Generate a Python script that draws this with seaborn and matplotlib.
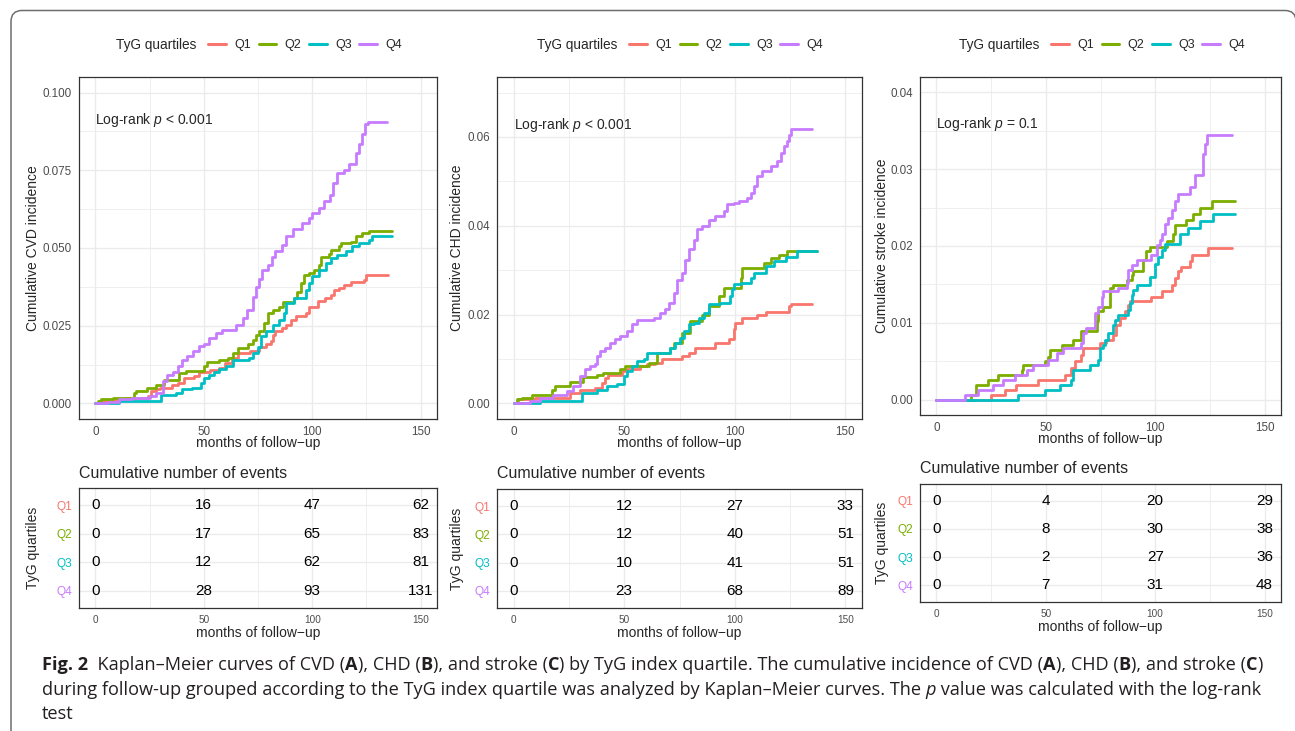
import matplotlib
matplotlib.use("Agg")
import numpy as np
import pandas as pd
import matplotlib.pyplot as plt
import seaborn as sns
from matplotlib.lines import Line2D
from matplotlib.patches import FancyBboxPatch
from matplotlib.ticker import MultipleLocator, FormatStrFormatter
from matplotlib.transforms import IdentityTransform

# ---- data (months, cumulative incidence) ----
QUARTILES = ["Q1", "Q2", "Q3", "Q4"]
PALETTE = ["#F8766D", "#7CAE00", "#00BFC4", "#C77CFF"]

CVD_Q1 = [(0, 0), (1.8, 0.0007), (9.5, 0.0013), (14, 0.0017), (24.5, 0.0024), (25.5, 0.004),
          (28, 0.0045), (30, 0.005), (35.5, 0.0058), (38, 0.0066), (41, 0.0082), (45.5, 0.0088),
          (48, 0.010), (53, 0.0107), (57, 0.0114), (60, 0.013), (63, 0.0147), (66, 0.0163),
          (71.5, 0.0168), (75.5, 0.018), (78.5, 0.019), (81, 0.020), (81.7, 0.022), (83, 0.0232),
          (86, 0.0243), (88, 0.0253), (90, 0.027), (92.5, 0.028), (97, 0.029), (98.5, 0.031),
          (102.5, 0.0328), (106, 0.034), (108.5, 0.035), (110, 0.0366), (112.5, 0.037),
          (114.5, 0.038), (118, 0.039), (124, 0.0398), (124.7, 0.0414), (134.7, 0.0414)]
CVD_Q2 = [(0, 0), (1.1, 0.0007), (2.6, 0.0013), (8, 0.0018), (18, 0.0034), (18.7, 0.004),
          (24, 0.005), (28, 0.006), (31.8, 0.0074), (38.7, 0.0098), (41.8, 0.0104), (50.2, 0.012),
          (51.7, 0.0133), (57, 0.0139), (61, 0.0147), (63.3, 0.0163), (65.6, 0.0179), (70.2, 0.019),
          (72.5, 0.0205), (74, 0.022), (75.5, 0.0232), (77.9, 0.026), (79.4, 0.029), (81.7, 0.030),
          (84.8, 0.031), (86.3, 0.0325), (91.7, 0.0339), (93.2, 0.036), (94.7, 0.0387),
          (96.3, 0.0414), (98.6, 0.042), (100.9, 0.043), (103.2, 0.0446), (104, 0.047),
          (107.8, 0.048), (108.6, 0.0494), (112.4, 0.0505), (113.2, 0.0515), (117.8, 0.052),
          (120.1, 0.0537), (123.1, 0.0548), (126.2, 0.0556), (136.6, 0.0556)]
CVD_Q3 = [(0, 0), (11, 0.0007), (30.2, 0.0026), (37.2, 0.0034), (40.2, 0.0045), (44.8, 0.005),
          (48.7, 0.0065), (50.2, 0.0082), (52.5, 0.009), (54.8, 0.010), (57.1, 0.011), (60.2, 0.012),
          (63.3, 0.0141), (70.9, 0.0147), (72.5, 0.0163), (74.8, 0.018), (76.3, 0.0216),
          (78.6, 0.0232), (81.7, 0.0253), (84.8, 0.027), (87.1, 0.029), (87.8, 0.0323),
          (91.7, 0.034), (97, 0.0366), (98.6, 0.0387), (100.1, 0.041), (103.2, 0.043),
          (106.2, 0.0451), (108.6, 0.0467), (111.6, 0.0478), (115.5, 0.0489), (118.5, 0.0505),
          (121.6, 0.0515), (126.2, 0.0526), (127.7, 0.0537), (136.6, 0.0537)]
CVD_Q4 = [(0, 0), (6, 0.0005), (11, 0.0013), (17, 0.0017), (25, 0.0024), (28, 0.0034),
          (31, 0.0072), (33, 0.0093), (36, 0.010), (38, 0.012), (40, 0.0139), (42.5, 0.0152),
          (45, 0.0168), (48, 0.0184), (50, 0.019), (52.5, 0.021), (55.5, 0.0227), (58.5, 0.0237),
          (65, 0.0253), (68, 0.0275), (70, 0.030), (72.5, 0.0344), (74, 0.0376), (75.5, 0.040),
          (77, 0.043), (79.5, 0.0446), (81.5, 0.047), (83, 0.049), (86, 0.051), (88, 0.054),
          (91, 0.056), (95.5, 0.058), (98.5, 0.0596), (100, 0.0612), (103, 0.0628), (105.5, 0.065),
          (108, 0.067), (109.5, 0.0708), (111.5, 0.074), (114.5, 0.0751), (117, 0.077),
          (120, 0.0804), (121.5, 0.0836), (123, 0.0868), (124.5, 0.090), (125.5, 0.0905),
          (134.5, 0.0905)]

CHD_Q1 = [(0, 0), (2.1, 0.0009), (9.7, 0.0013), (25.5, 0.0024), (30.1, 0.0031), (36.9, 0.0035),
          (39.9, 0.0047), (41.4, 0.0058), (42.9, 0.0065), (48.9, 0.0073), (51.2, 0.0078),
          (57.3, 0.0084), (60.3, 0.0088), (64, 0.0092), (67.1, 0.0099), (76.1, 0.0107),
          (79.2, 0.0114), (82.2, 0.0125), (91.2, 0.0137), (97.3, 0.0144), (99.5, 0.0167),
          (100.3, 0.0182), (103.3, 0.0193), (110.1, 0.020), (113.9, 0.0206), (124.5, 0.0219),
          (125.2, 0.0224), (135, 0.0224)]
CHD_Q2 = [(0, 0), (1.4, 0.0009), (3.6, 0.0013), (8.2, 0.002), (17.2, 0.0031), (18.7, 0.004),
          (25.5, 0.0048), (31.6, 0.006), (37.6, 0.0065), (40.6, 0.0069), (48.2, 0.0078),
          (50.5, 0.0084), (61, 0.0092), (64.8, 0.0114), (70.8, 0.0125), (72.4, 0.0137),
          (76.1, 0.0159), (79.9, 0.0185), (85.2, 0.020), (88.2, 0.0219), (92.7, 0.0241),
          (95, 0.026), (102.6, 0.0283), (103.3, 0.0305), (113.1, 0.0317), (116.2, 0.0328),
          (119.9, 0.0335), (123.7, 0.0344), (137, 0.0344)]
CHD_Q3 = [(0, 0), (11.9, 0.0005), (30.8, 0.0024), (37.6, 0.0031), (42.1, 0.0039), (46.7, 0.0043),
          (49.7, 0.0062), (51.2, 0.0073), (53.5, 0.0084), (55.7, 0.0095), (58.8, 0.0099),
          (60.3, 0.0114), (70.8, 0.0125), (73.1, 0.0137), (75.4, 0.0148), (76.9, 0.0163),
          (79.2, 0.0178), (81.4, 0.0182), (83.7, 0.0193), (86, 0.0204), (88.2, 0.0223),
          (93.5, 0.0227), (98, 0.0242), (98.8, 0.0257), (99.5, 0.0268), (102.6, 0.0272),
          (107.1, 0.0283), (108.6, 0.0294), (113.9, 0.0309), (117.7, 0.032), (123, 0.033),
          (128.2, 0.0343), (137, 0.0343)]
CHD_Q4 = [(0, 0), (7.4, 0.0005), (11.9, 0.0013), (18, 0.002), (24, 0.0028), (27, 0.0039),
          (30.1, 0.0062), (32.3, 0.0077), (34.6, 0.0084), (36.9, 0.0088), (37.6, 0.0107),
          (39.1, 0.0118), (41.4, 0.0125), (43.7, 0.0137), (45.9, 0.0144), (48.2, 0.0152),
          (51.2, 0.0163), (53.5, 0.0178), (55.7, 0.0189), (63.3, 0.0193), (66.3, 0.0204),
          (68.6, 0.0212), (70.1, 0.0227), (72.4, 0.0249), (73.9, 0.0279), (76.1, 0.0294),
          (77.6, 0.0324), (79.2, 0.0347), (81.4, 0.0369), (82.9, 0.0392), (85.2, 0.0399),
          (88.2, 0.0414), (91.2, 0.0422), (95, 0.0433), (96.5, 0.0448), (99.5, 0.0452),
          (101.8, 0.0455), (105.6, 0.0463), (107.1, 0.0474), (108.6, 0.0489), (110.1, 0.0512),
          (112.4, 0.0523), (116.2, 0.0534), (119.2, 0.0545), (120.7, 0.0564), (122.2, 0.0579),
          (123.7, 0.059), (124.5, 0.0605), (125.2, 0.0617), (135, 0.0617)]

STROKE_Q1 = [(0, 0), (24.8, 0.00065), (31.3, 0.0013), (36.6, 0.0019), (46.5, 0.0026),
             (58.7, 0.0032), (61.7, 0.0041), (63.3, 0.005), (66.3, 0.0058), (67.1, 0.0067),
             (74.7, 0.0074), (77.7, 0.0078), (80.8, 0.0084), (82.3, 0.0097), (83.8, 0.0106),
             (86.1, 0.0115), (87.7, 0.0123), (88.4, 0.0128), (98.3, 0.0134), (102.9, 0.0141),
             (107.5, 0.0149), (109, 0.0158), (110.5, 0.0167), (112, 0.0173), (115.9, 0.018),
             (116.6, 0.0188), (124.2, 0.0197), (134.9, 0.0197)]
STROKE_Q2 = [(0, 0), (16, 0.00065), (18.3, 0.0019), (23.6, 0.0026), (28.2, 0.0032),
             (38.9, 0.0039), (39.6, 0.0045), (49.5, 0.005), (51.1, 0.0056), (51.8, 0.0065),
             (57.2, 0.0071), (62.5, 0.0078), (66.3, 0.0089), (73.2, 0.0102), (73.9, 0.0115),
             (76.2, 0.0121), (79.3, 0.0145), (80.8, 0.0149), (86.9, 0.0156), (89.2, 0.0162),
             (89.9, 0.0167), (94.5, 0.0182), (96, 0.0193), (97.6, 0.0199), (105.2, 0.0206),
             (108.2, 0.0216), (109, 0.0227), (114.3, 0.0234), (117.4, 0.0242), (120.4, 0.0249),
             (125.8, 0.0258), (136.7, 0.0258)]
STROKE_Q3 = [(0, 0), (37.3, 0.00065), (49.5, 0.0013), (56.4, 0.0019), (61.7, 0.0026),
             (62.5, 0.0039), (70.1, 0.0045), (73.9, 0.0052), (74.7, 0.0067), (76.2, 0.0071),
             (77, 0.0078), (78.5, 0.0087), (80.8, 0.0097), (81.6, 0.0104), (83.1, 0.011),
             (87.7, 0.0117), (88.4, 0.0126), (89.2, 0.0136), (89.9, 0.0143), (91.5, 0.0149),
             (97.6, 0.016), (99.8, 0.0177), (101.4, 0.0186), (102.9, 0.0195), (104.4, 0.0203),
             (111.3, 0.0216), (115.1, 0.0223), (120.4, 0.0232), (126.5, 0.0242), (136.7, 0.0242)]
STROKE_Q4 = [(0, 0), (13, 0.00065), (19.1, 0.0013), (25.9, 0.0019), (30.5, 0.0026),
             (35.8, 0.0032), (41.2, 0.0039), (44.2, 0.0045), (51.1, 0.0052), (54.9, 0.0061),
             (57.9, 0.0067), (66.3, 0.0074), (67.1, 0.0087), (68.6, 0.0093), (72.4, 0.0113),
             (73.9, 0.0121), (75.5, 0.0134), (76.2, 0.0141), (83.1, 0.0145), (86.9, 0.0152),
             (87.7, 0.0169), (89.2, 0.0175), (91.5, 0.0182), (98.3, 0.0188), (100.6, 0.0201),
             (102.1, 0.0208), (102.9, 0.0216), (104.4, 0.0229), (105.9, 0.0236), (107.5, 0.0247),
             (109, 0.0258), (110.5, 0.0268), (115.9, 0.0277), (118.1, 0.0292), (122, 0.032),
             (122.7, 0.0333), (123.5, 0.0344), (134.9, 0.0344)]

# cumulative number of events at 0, 50, 100, 150 months
EVENT_TIMES = [0, 50, 100, 150]
CVD_EVENTS = [[0, 16, 47, 62], [0, 17, 65, 83], [0, 12, 62, 81], [0, 28, 93, 131]]
CHD_EVENTS = [[0, 12, 27, 33], [0, 12, 40, 51], [0, 10, 41, 51], [0, 23, 68, 89]]
STROKE_EVENTS = [[0, 4, 20, 29], [0, 8, 30, 38], [0, 2, 27, 36], [0, 7, 31, 48]]

Y_LABELS = ["Cumulative CVD incidence", "Cumulative CHD incidence", "Cumulative stroke incidence"]
P_TEXTS = ["Log-rank $p$ < 0.001", "Log-rank $p$ < 0.001", "Log-rank $p$ = 0.1"]
P_Y = [0.0911, 0.0626, 0.0359]

# ---- style ----
sns.set_style("white")
plt.rcParams["font.family"] = ["Liberation Sans", "DejaVu Sans"]
plt.rcParams["mathtext.fontset"] = "custom"
plt.rcParams["mathtext.rm"] = "Liberation Sans"
plt.rcParams["mathtext.it"] = "Liberation Sans:italic"

W, H = 1295, 731
fig = plt.figure(figsize=(W / 100, H / 100), dpi=100)
fig.patch.set_facecolor("white")

XLAB = "months of follow\u2212up"
GRID = "#EBEBEB"


def px_axes(l, t, r, b):
    return fig.add_axes([l / W, 1 - b / H, (r - l) / W, (b - t) / H])


def style_axes(ax):
    for s in ax.spines.values():
        s.set_color("#333333")
        s.set_linewidth(0.9)
    ax.set_axisbelow(True)
    ax.grid(which="major", color=GRID, lw=1.0)
    ax.grid(which="minor", color=GRID, lw=0.55)
    ax.tick_params(which="major", length=3, width=0.8, color="#333333",
                   labelcolor="#4D4D4D", pad=2)
    ax.tick_params(which="minor", length=0)


def to_frame(curves):
    rows = []
    for q, pts in zip(QUARTILES, curves):
        for t, v in pts:
            rows.append((q, t, v))
    return pd.DataFrame(rows, columns=["quartile", "months", "incidence"])


panels = [
    # curves, events, ymax, ystep, fmt, main box, table box, legend x (title, first line), title y
    ([CVD_Q1, CVD_Q2, CVD_Q3, CVD_Q4], CVD_EVENTS, 0.1, 0.025, "%.3f",
     (79, 77, 437, 419), (79, 488, 437, 608), (116, 208), 474),
    ([CHD_Q1, CHD_Q2, CHD_Q3, CHD_Q4], CHD_EVENTS, 0.07, 0.02, "%.2f",
     (497, 77, 862, 419), (497, 489, 862, 608), (537, 629), 474),
    ([STROKE_Q1, STROKE_Q2, STROKE_Q3, STROKE_Q4], STROKE_EVENTS, 0.04, 0.01, "%.2f",
     (920, 77, 1281, 415), (920, 484, 1281, 602), (959, 1051), 469),
]
YLAB_RIGHT = [40, 464, 889]  # pixel x of the right edge of rotated y labels

for i, (curves, events, ymax, ystep, fmt, mbox, tbox, legx, title_y) in enumerate(panels):
    # --- Kaplan-Meier panel ---
    ax = px_axes(*mbox)
    df = to_frame(curves)
    sns.lineplot(data=df, x="months", y="incidence", hue="quartile", hue_order=QUARTILES,
                 palette=PALETTE, drawstyle="steps-post", estimator=None, linewidth=2.0,
                 legend=False, ax=ax)
    style_axes(ax)
    ax.set_xlim(-7.5, 157.5)
    ax.set_ylim(-0.05 * ymax, 1.05 * ymax)
    ax.xaxis.set_major_locator(MultipleLocator(50))
    ax.xaxis.set_minor_locator(MultipleLocator(25))
    ax.yaxis.set_major_locator(MultipleLocator(ystep))
    ax.yaxis.set_minor_locator(MultipleLocator(ystep / 2))
    ax.yaxis.set_major_formatter(FormatStrFormatter(fmt))
    ax.tick_params(labelsize=8.4)
    ax.set_xlabel(XLAB, fontsize=10)
    ax.set_ylabel(Y_LABELS[i], fontsize=10)
    bw = mbox[2] - mbox[0]
    bh = mbox[3] - mbox[1]
    ax.yaxis.set_label_coords((YLAB_RIGHT[i] - mbox[0]) / bw, 0.5)
    ax.xaxis.set_label_coords(0.5, -17.5 / bh)
    ax.text(0, P_Y[i], P_TEXTS[i], fontsize=10, ha="left", va="center")

    # legend on top
    fig.text(legx[0] / W, 1 - 45 / H, "TyG quartiles", fontsize=9.8, va="center", ha="left")
    handles = [Line2D([], [], color=c, lw=2.2) for c in PALETTE]
    fig.legend(handles, QUARTILES, loc="center left", bbox_to_anchor=(legx[1] / W, 1 - 45 / H),
               ncol=4, frameon=False, fontsize=9, handlelength=1.4, handletextpad=0.7,
               columnspacing=0.6, borderpad=0, borderaxespad=0)

    # --- cumulative events table ---
    tx = px_axes(*tbox)
    style_axes(tx)
    tx.set_xlim(-7.5, 157.5)
    tx.set_ylim(4.6, 0.4)
    tx.xaxis.set_major_locator(MultipleLocator(50))
    tx.xaxis.set_minor_locator(MultipleLocator(25))
    tx.set_yticks([1, 2, 3, 4])
    tx.set_yticklabels(QUARTILES)
    tx.tick_params(axis="x", labelsize=7.2)
    tx.tick_params(axis="y", labelsize=8.6)
    for lab, c in zip(tx.get_yticklabels(), PALETTE):
        lab.set_color(c)
    for r, row in enumerate(events):
        for t, n in zip(EVENT_TIMES, row):
            tx.text(t, r + 1, str(n), ha="center", va="center", fontsize=11, color="black")
    tw = tbox[2] - tbox[0]
    th = tbox[3] - tbox[1]
    tx.set_xlabel(XLAB, fontsize=10)
    tx.set_ylabel("TyG quartiles", fontsize=10)
    tx.yaxis.set_label_coords((YLAB_RIGHT[i] - tbox[0]) / tw, 0.5)
    tx.xaxis.set_label_coords(0.5, -18.5 / th)
    tx.text(0, 1 + (tbox[1] - title_y) / th, "Cumulative number of events",
            transform=tx.transAxes, fontsize=11.5, ha="left", va="center")

# ---- page frame (right edge sits just outside the picture) ----
frame = FancyBboxPatch((11, -60), 1296 - 11, (H - 10.5) + 60,
                       boxstyle="round,pad=0,rounding_size=11", transform=IdentityTransform(),
                       fc="none", ec="#6E6E6E", lw=1.1)
fig.add_artist(frame)

# ---- caption ----
CAP_FONT = "Open Sans"
renderer = fig.canvas.get_renderer()


def run_width(s, size, weight="normal", style="normal"):
    a = fig.text(0, 0, s + "x", fontsize=size, fontweight=weight, fontstyle=style, family=CAP_FONT)
    b = fig.text(0, 0, "x", fontsize=size, fontweight=weight, fontstyle=style, family=CAP_FONT)
    w = a.get_window_extent(renderer).width - b.get_window_extent(renderer).width
    a.remove()
    b.remove()
    return w


line1 = [("Fig. 2", "bold", "normal"), ("  Kaplan\u2013Meier curves of CVD (", "normal", "normal"),
         ("A", "bold", "normal"), ("), CHD (", "normal", "normal"), ("B", "bold", "normal"),
         ("), and stroke (", "normal", "normal"), ("C", "bold", "normal"),
         (") by TyG index quartile. The cumulative incidence of CVD (", "normal", "normal"),
         ("A", "bold", "normal"), ("), CHD (", "normal", "normal"), ("B", "bold", "normal"),
         ("), and stroke (", "normal", "normal"), ("C", "bold", "normal"), (")", "normal", "normal")]
line2 = [("during follow-up grouped according to the TyG index quartile was analyzed by "
          "Kaplan\u2013Meier curves. The ", "normal", "normal"), ("p", "normal", "italic"),
         (" value was calculated with the log-rank", "normal", "normal")]
line3 = [("test", "normal", "normal")]

base = 10.0
w2 = sum(run_width(s, base, wt, st) for s, wt, st in line2)
cap_size = base * (1260 - 42) / w2

for runs, yb in [(line1, 670), (line2, 695), (line3, 719)]:
    x = 42
    for s, wt, st in runs:
        fig.text(x / W, 1 - yb / H, s, fontsize=cap_size, fontweight=wt, fontstyle=st,
                 family=CAP_FONT, va="baseline", ha="left", color="#231F20")
        x += run_width(s, cap_size, wt, st)

fig.savefig("out.png", dpi=100, facecolor="white")
